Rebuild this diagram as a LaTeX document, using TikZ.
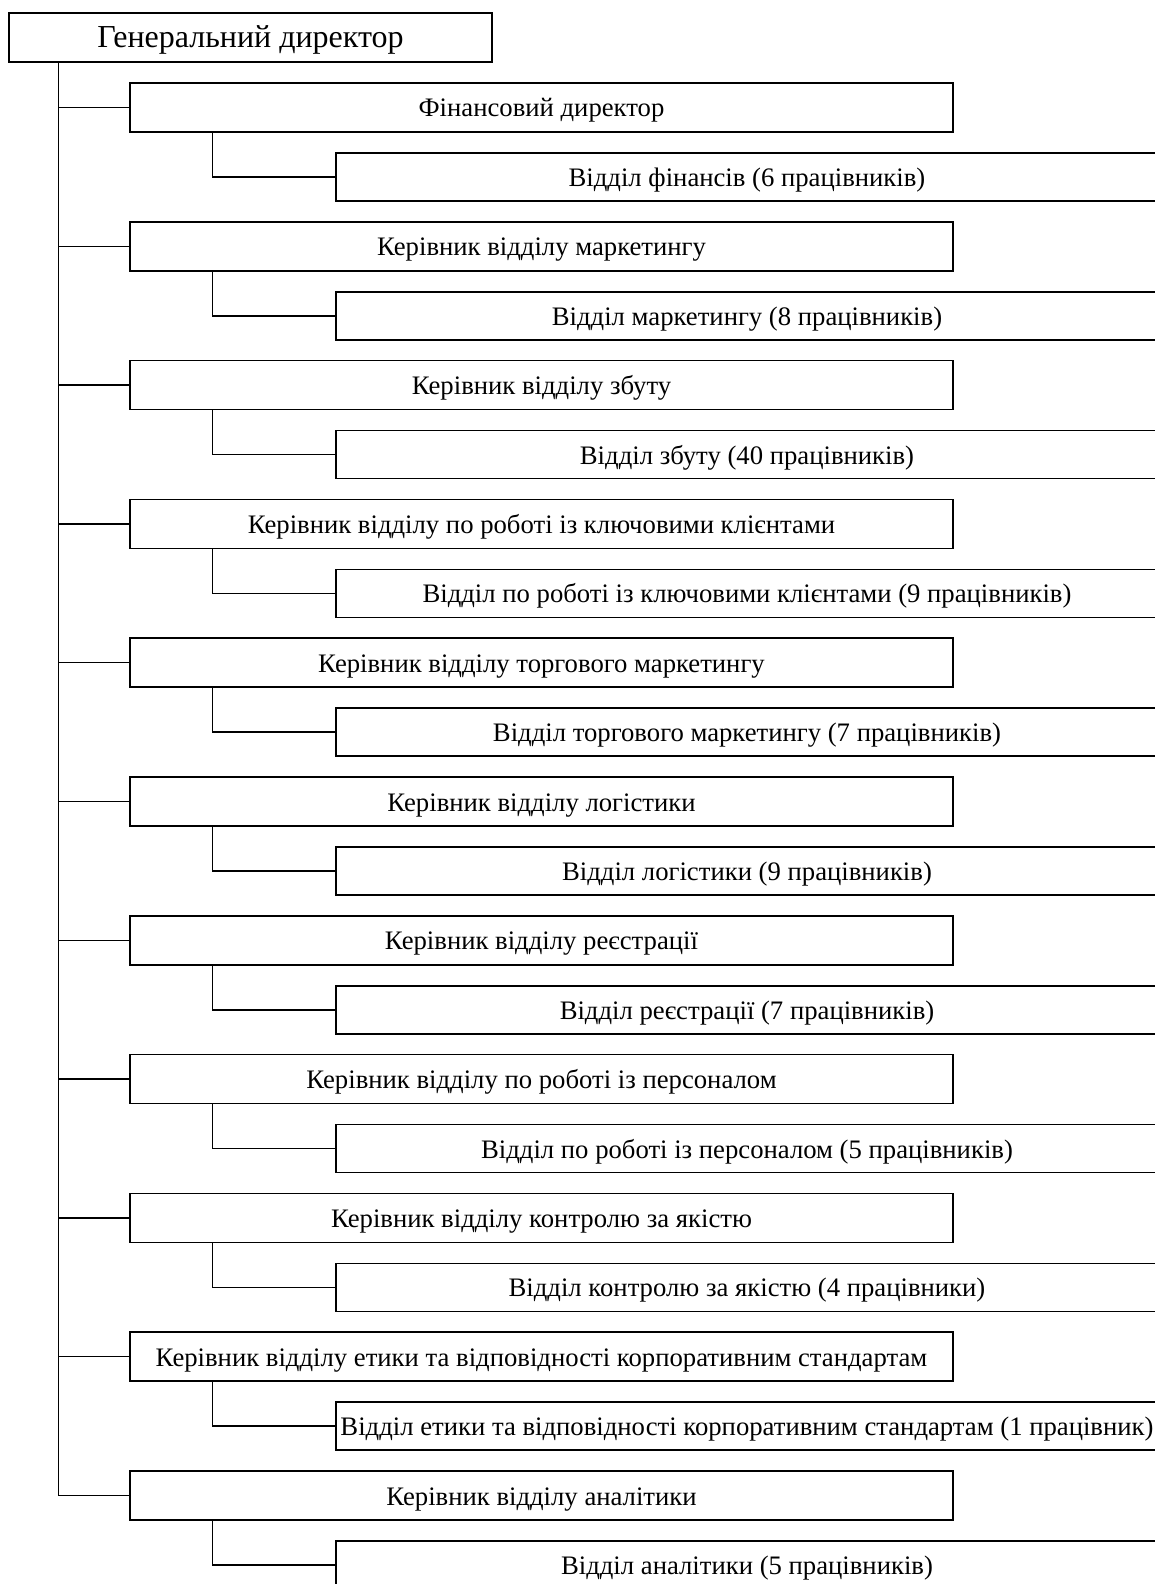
\documentclass[tikz,border=0pt]{standalone}
\usepackage{fontspec}
\setmainfont{Liberation Serif}
\begin{document}
\begin{tikzpicture}[x=1pt,y=-1pt,
  box/.style={draw,line width=1.5pt,inner sep=0pt,anchor=center},
  gdbox/.style={box,minimum width=483pt,minimum height=49pt,text height=24pt,text depth=3pt,font=\fontsize{32}{38}\selectfont},
  mgr/.style={box,minimum width=823pt,minimum height=49pt,text height=22pt,text depth=3pt,font=\fontsize{26.7}{32}\selectfont},
  dept/.style={box,minimum width=822pt,minimum height=48pt,text height=22pt,text depth=3pt,font=\fontsize{26.7}{32}\selectfont},
  link/.style={line width=1.5pt}]
\useasboundingbox (0,0) rectangle (1154,1584);
\node[gdbox] (gd) at (250.5,37.5) {Генеральний директор};
\foreach \m/\s [count=\i from 0] in {
 Фінансовий директор/Відділ фінансів (6 працівників),
 Керівник відділу маркетингу/Відділ маркетингу (8 працівників),
 Керівник відділу збуту/Відділ збуту (40 працівників),
 Керівник відділу по роботі із ключовими клієнтами/Відділ по роботі із ключовими клієнтами (9 працівників),
 Керівник відділу торгового маркетингу/Відділ торгового маркетингу (7 працівників),
 Керівник відділу логістики/Відділ логістики (9 працівників),
 Керівник відділу реєстрації/Відділ реєстрації (7 працівників),
 Керівник відділу по роботі із персоналом/Відділ по роботі із персоналом (5 працівників),
 Керівник відділу контролю за якістю/Відділ контролю за якістю (4 працівники),
 Керівник відділу етики та відповідності корпоративним стандартам/Відділ етики та відповідності корпоративним стандартам (1 працівник),
 Керівник відділу аналітики/Відділ аналітики (5 працівників)}{
  \node[mgr] (m\i) at ({541.5},{107.5+\i*138.8}) {\m};
  \node[dept] (s\i) at ({747},{177+\i*138.8}) {\s};
  \draw[link] ([xshift=50pt]gd.south west) |- (m\i.west);
  \draw[link] ([xshift=83pt]m\i.south west) |- (s\i.west);
}
\end{tikzpicture}
\end{document}
